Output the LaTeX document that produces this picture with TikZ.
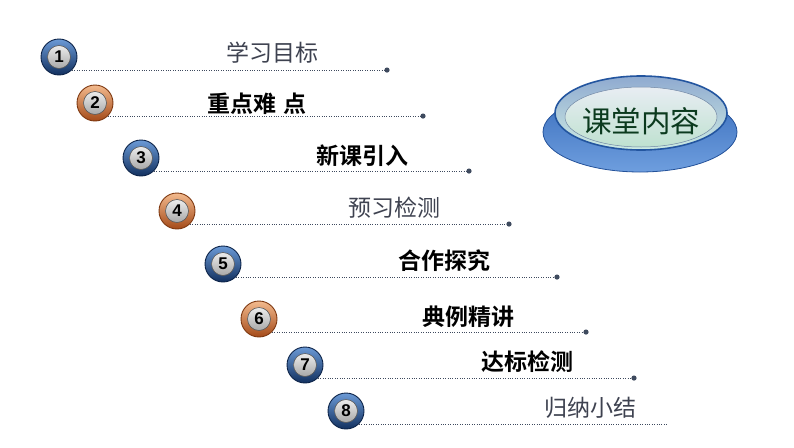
\documentclass[tikz,border=0pt]{standalone}
\usepackage{fontspec}
\setmainfont{Liberation Sans}
\newfontfamily\cjk[BoldFont={Noto Sans CJK SC Bold}]{Noto Sans CJK SC}
\usetikzlibrary{shapes.geometric}
\definecolor{ringblueT}{HTML}{6B9AD6}
\definecolor{ringblueB}{HTML}{12305F}
\definecolor{ringblueD}{HTML}{0C2348}
\definecolor{ringorT}{HTML}{F3BA8E}
\definecolor{ringorB}{HTML}{A44A18}
\definecolor{ringorD}{HTML}{7E3810}
\definecolor{discB}{HTML}{959595}
\definecolor{lineC}{HTML}{3E4A5E}
\definecolor{greyText}{HTML}{3E4250}
\definecolor{baseT}{HTML}{3A6EBD}
\definecolor{baseB}{HTML}{6E9EDE}
\definecolor{baseD}{HTML}{24529A}
\definecolor{capT}{HTML}{8FAAD0}
\definecolor{capB}{HTML}{CDEBE3}
\definecolor{capD}{HTML}{23559F}
\definecolor{faceT}{HTML}{E8EDF3}
\definecolor{faceB}{HTML}{BFE1D0}
\definecolor{btnText}{HTML}{0B3A1E}
\tikzset{
  x=1pt, y=-1pt,
  ball/.style={circle, minimum size=36pt, inner sep=0pt, line width=0.9pt,
    font=\fontsize{17}{17}\selectfont\bfseries,
    path picture={\shade[top color=white, bottom color=discB, draw=gray!70!black, line width=0.6pt]
      (path picture bounding box.center) circle (11.5pt);}},
  blueball/.style={ball, top color=ringblueT, bottom color=ringblueB, draw=ringblueD},
  orball/.style={ball, top color=ringorT, bottom color=ringorB, draw=ringorD},
  dotline/.style={draw=lineC, line width=1pt, dash pattern=on 1pt off 1.4pt},
  enddot/.style={fill=lineC},
  itemtext/.style={font=\cjk\fontsize{23}{23}\selectfont, inner sep=0pt},
  plaintext/.style={itemtext, text=greyText},
  boldtext/.style={itemtext, font=\cjk\fontsize{23}{23}\selectfont\bfseries, text=black},
}
\begin{document}
\begin{tikzpicture}
\useasboundingbox (0,0) rectangle (794,447);
% big button
\shade[top color=baseT, bottom color=baseB, draw=baseD, line width=0.8pt] (640,132) ellipse (97 and 40);
\shade[top color=capT, bottom color=capB, draw=capD, line width=1.6pt] (641,113) ellipse (86 and 37);
\shade[top color=faceT, bottom color=faceB, draw=capT!80!black, line width=0.5pt] (641,117) ellipse (76 and 30);
\node[font=\cjk\fontsize{29.5}{29.5}\selectfont, text=btnText, inner sep=0pt] (btn) at (641,121) {课堂内容};

% line end coordinates
\coordinate (e1) at (387,70);
\coordinate (e2) at (423,117);
\coordinate (e3) at (469,171);
\coordinate (e4) at (509,224);
\coordinate (e5) at (557,277);
\coordinate (e6) at (586,332);
\coordinate (e7) at (634,378);
\coordinate (e8) at (668,424);

% balls
\node[blueball] (c1) at (59,57) {1};
\node[orball]   (c2) at (95,103) {2};
\node[blueball] (c3) at (141,158) {3};
\node[orball]   (c4) at (177,211) {4};
\node[blueball] (c5) at (223,264) {5};
\node[orball]   (c6) at (259,319) {6};
\node[blueball] (c7) at (305,365) {7};
\node[blueball] (c8) at (346,411) {8};

% dotted lines
\foreach \i in {1,...,8} {
  \draw[dotline] (c\i.south east) -- (c\i.south east -| e\i);
}
\foreach \i in {1,...,7} {
  \fill[enddot] (c\i.south east -| e\i) circle (2.6pt);
}

% texts
\node[plaintext] (t1) at (272,53) {学习目标};
\node[boldtext]  (t2) at (257,104) {重点难\hspace{0.3em}点};
\node[boldtext]  (t3) at (362,156) {新课引入};
\node[plaintext] (t4) at (394,208) {预习检测};
\node[boldtext]  (t5) at (444,261) {合作探究};
\node[boldtext]  (t6) at (468,317) {典例精讲};
\node[boldtext]  (t7) at (527,362) {达标检测};
\node[plaintext] (t8) at (590,408) {归纳小结};
\end{tikzpicture}
\end{document}
